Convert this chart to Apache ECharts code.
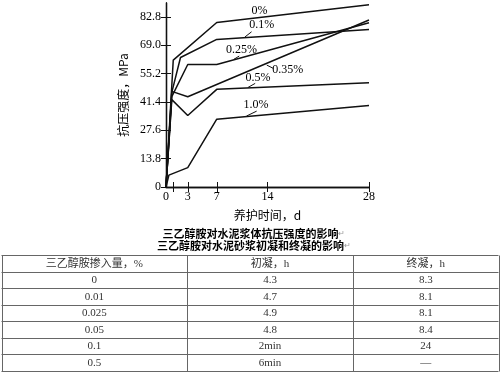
<!DOCTYPE html>
<html>
<head>
<meta charset="utf-8">
<script src="https://cdn.jsdelivr.net/npm/echarts@6/dist/echarts.min.js"></script>
<style>html,body{margin:0;padding:0;background:#fff}#c{width:500px;height:372px}</style>
</head>
<body>
<div id="c"></div>
<script>
// ---- data ----
const seriesNames = ['0%', '0.1%', '0.25%', '0.35%', '0.5%', '1.0%'];
const s0   = [[0, 0], [1, 61.7], [7, 80.0], [28, 88.6]];
const s01  = [[0, 0], [0.8, 46], [2, 63], [7, 71.8], [28, 76.6]];
const s025 = [[0, 0], [0.8, 44], [3, 59.6], [7, 59.6], [28, 79.9]];
const s035 = [[0, 0], [0.8, 46.5], [3, 43.9], [28, 81.2]];
const s05  = [[0, 0], [0.8, 42.5], [3, 34.8], [7, 47.5], [28, 50.7]];
const s10  = [[0, 0], [0.4, 5.8], [3, 9.4], [7, 33.0], [28, 39.7]];
const seriesData = [s0, s01, s025, s035, s05, s10];
// label anchor (data coords) and leader segments
const labelPos = [[12.9, 85.6], [13.2, 78.7], [10.4, 66.9], [16.8, 56.9], [12.7, 53.3], [12.4, 39.9]];
const leaders = [null, [[10.9, 73.0], [11.8, 75.5]], [[9.36, 62.1], [10.1, 63.7]], [[13.9, 59.3], [14.8, 57.7]], [[11.3, 48.4], [12.3, 50.4]], [[11.1, 34.5], [12.5, 36.9]]];
const xLabelValues = [0, 3, 7, 14, 28];
const xTickValues = [1, 3, 7, 14, 28];
const yTickValues = [0, 13.8, 27.6, 41.4, 55.2, 69.0, 82.8];
const yLabels = ['0', '13.8', '27.6', '41.4', '55.2', '69.0', '82.8'];
const xName = '养护时间，d';
const yName = '抗压强度，MPa';
const caption1 = '三乙醇胺对水泥浆体抗压强度的影响';
const caption2 = '三乙醇胺对水泥砂浆初凝和终凝的影响';
const tableHeader = ['三乙醇胺掺入量，%', '初凝，h', '终凝，h'];
const dosage = ['0', '0.01', '0.025', '0.05', '0.1', '0.5'];
const initialSet = ['4.3', '4.7', '4.9', '4.8', '2min', '6min'];
const finalSet = ['8.3', '8.1', '8.1', '8.4', '24', '—'];

// ---- chart ----
const serif = '"Liberation Serif","Times New Roman",serif';
const mixed = '"Liberation Serif","Noto Sans CJK SC",serif';
const chart = echarts.init(document.getElementById('c'));

const axLine = { show: true, lineStyle: { color: '#111', width: 1.3 } };
const series = seriesData.map((d, i) => {
  const s = {
    type: 'line', name: seriesNames[i], data: d, showSymbol: false, symbol: 'none',
    lineStyle: { color: '#111', width: 1.5 }, silent: true, animation: false,
    markPoint: {
      symbol: 'circle', symbolSize: 0.1, animation: false,
      label: { show: true, position: 'inside', formatter: seriesNames[i], color: '#000', fontFamily: serif, fontSize: 12 },
      data: [{ coord: labelPos[i] }]
    }
  };
  if (leaders[i]) {
    s.markLine = {
      symbol: 'none', animation: false, silent: true,
      label: { show: false }, lineStyle: { color: '#111', width: 1, type: 'solid' },
      data: [[{ coord: leaders[i][0] }, { coord: leaders[i][1] }]]
    };
  }
  return s;
});

// table graphics
const graphics = [];
const colX = [1.5, 187, 353, 498.5];
const top0 = 255, rowH = 16.5;
const rows = [tableHeader].concat(dosage.map((d, i) => [d, initialSet[i], finalSet[i]]));
const nRows = rows.length;
const lineCol = '#666';
for (let r = 0; r <= nRows; r++) {
  const y = Math.round(top0 + r * rowH) + 0.5;
  graphics.push({ type: 'line', shape: { x1: colX[0], y1: y, x2: colX[3], y2: y }, style: { stroke: lineCol, lineWidth: 1 } });
}
for (let c = 0; c < colX.length; c++) {
  const x = Math.round(colX[c]) + 0.5;
  graphics.push({ type: 'line', shape: { x1: x, y1: top0 + 0.5, x2: x, y2: Math.round(top0 + nRows * rowH) + 0.5 }, style: { stroke: lineCol, lineWidth: 1 } });
}
rows.forEach((row, r) => {
  row.forEach((txt, c) => {
    graphics.push({
      type: 'text', x: (colX[c] + colX[c + 1]) / 2, y: top0 + r * rowH + rowH / 2 + 0.5,
      style: { text: txt, fill: '#333', font: '11px ' + mixed, textAlign: 'center', textVerticalAlign: 'middle' }
    });
  });
});
[caption1, caption2].forEach((t, i) => {
  graphics.push({
    type: 'text', x: 254, y: 234 + i * 12,
    style: {
      text: '{a|' + t + '}{b|↵}', textAlign: 'center', textVerticalAlign: 'middle',
      rich: {
        a: { fontFamily: '"Noto Sans CJK SC",sans-serif', fontSize: 11, fontWeight: 'bold', fill: '#000' },
        b: { fontFamily: 'sans-serif', fontSize: 8, fill: '#999' }
      }
    }
  });
});

chart.setOption({
  animation: false,
  backgroundColor: '#fff',
  grid: { left: 166, right: 131, top: 3, bottom: 185, containLabel: false },
  xAxis: [{
    type: 'value', min: 0, max: 28, position: 'bottom',
    name: xName, nameLocation: 'middle', nameGap: 22,
    nameTextStyle: { fontFamily: '"Noto Sans CJK SC",sans-serif', fontSize: 12, color: '#000' },
    axisLine: axLine, splitLine: { show: false },
    axisTick: { show: true, inside: true, length: 5, customValues: xTickValues, lineStyle: { color: '#111' } },
    axisLabel: { customValues: xLabelValues, fontFamily: serif, fontSize: 12, color: '#000', margin: 4 }
  }, {
    type: 'value', min: 0, max: 28, position: 'top',
    axisLine: axLine, splitLine: { show: false },
    axisTick: { show: true, inside: true, length: 5, customValues: xTickValues, lineStyle: { color: '#111' } },
    axisLabel: { show: false }
  }],
  yAxis: [{
    type: 'value', min: 0, max: 89.5, position: 'left',
    name: yName, nameLocation: 'middle', nameGap: 37,
    nameTextStyle: { fontFamily: '"Noto Sans CJK SC",sans-serif', fontSize: 12, color: '#000' },
    axisLine: axLine, splitLine: { show: false },
    axisTick: { show: true, inside: true, length: 5, customValues: yTickValues, lineStyle: { color: '#111' } },
    axisLabel: { customValues: yTickValues, formatter: v => yLabels[yTickValues.indexOf(v)] ?? '', fontFamily: serif, fontSize: 12, color: '#000', margin: 5 }
  }, {
    type: 'value', min: 0, max: 89.5, position: 'right',
    axisLine: axLine, splitLine: { show: false },
    axisTick: { show: true, inside: true, length: 5, customValues: yTickValues, lineStyle: { color: '#111' } },
    axisLabel: { show: false }
  }],
  series: series,
  graphic: graphics
});
</script>
</body>
</html>
